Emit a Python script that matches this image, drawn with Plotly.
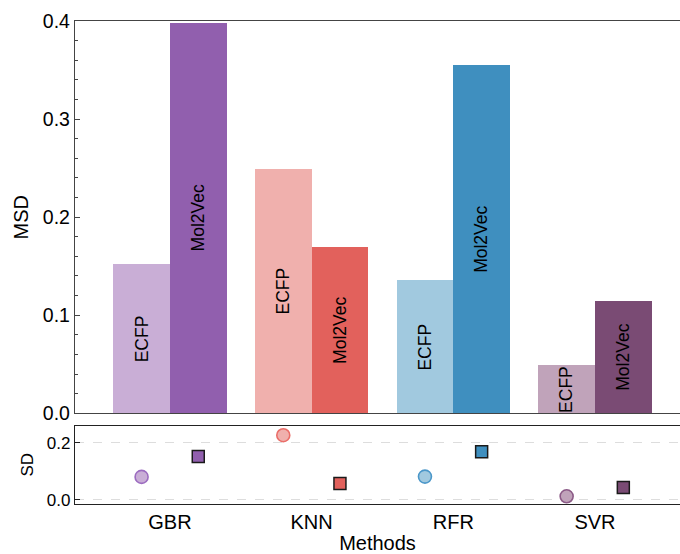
import plotly.graph_objects as go

methods = ["GBR", "KNN", "RFR", "SVR"]
msd_ecfp = [0.152, 0.249, 0.136, 0.049]
msd_mol2vec = [0.398, 0.170, 0.355, 0.114]
sd_ecfp = [0.080, 0.226, 0.081, 0.012]
sd_mol2vec = [0.151, 0.057, 0.168, 0.043]

ecfp_colors = ["#c9aed6", "#f0b0ad", "#a1c9df", "#c0a3ba"]
mol2vec_colors = ["#915fae", "#e2615c", "#3f8fbf", "#7a4b74"]
ecfp_edge = ["#9c6cc0", "#ea6e69", "#4b97c9", "#8c5b87"]

FONT = "Arial, Liberation Sans, sans-serif"
idx = list(range(len(methods)))
x_ecfp = [i - 0.2 for i in idx]
x_mol = [i + 0.2 for i in idx]

fig = go.Figure()
fig.add_trace(go.Bar(x=x_ecfp, y=msd_ecfp, width=0.4, marker=dict(color=ecfp_colors, line=dict(width=0)),
                     name="ECFP", xaxis="x", yaxis="y", showlegend=False))
fig.add_trace(go.Bar(x=x_mol, y=msd_mol2vec, width=0.4, marker=dict(color=mol2vec_colors, line=dict(width=0)),
                     name="Mol2Vec", xaxis="x", yaxis="y", showlegend=False))

fig.add_trace(go.Scatter(x=x_ecfp, y=sd_ecfp, mode="markers", xaxis="x2", yaxis="y2", showlegend=False,
                         marker=dict(symbol="circle", size=13, color=ecfp_colors,
                                     line=dict(color=ecfp_edge, width=1.6))))
fig.add_trace(go.Scatter(x=x_mol, y=sd_mol2vec, mode="markers", xaxis="x2", yaxis="y2", showlegend=False,
                         marker=dict(symbol="square", size=12, color=mol2vec_colors,
                                     line=dict(color="#1a1a1a", width=1.5))))

annotations = []
for xs, vals, label in [(x_ecfp, msd_ecfp, "ECFP"), (x_mol, msd_mol2vec, "Mol2Vec")]:
    for xv, v in zip(xs, vals):
        annotations.append(dict(x=xv, y=v / 2, xref="x", yref="y", text=label, textangle=-90,
                                showarrow=False, font=dict(family=FONT, size=17.5, color="black")))

xr = [-0.67, 3.6]
axis_line = "#444444"
fig.update_layout(
    width=680, height=554,
    margin=dict(l=75, r=0, t=21, b=50),
    paper_bgcolor="white", plot_bgcolor="white",
    font=dict(family=FONT, color="black"),
    bargap=0,
    annotations=annotations,
    xaxis=dict(domain=[0, 1], range=xr, anchor="y", showticklabels=False, ticks="",
               showline=True, linecolor=axis_line, linewidth=1.3, mirror=True, showgrid=False, zeroline=False),
    yaxis=dict(domain=[0.1878, 1], range=[0, 0.4], anchor="x", tickvals=[0, 0.1, 0.2, 0.3, 0.4],
               ticktext=["0.0", "0.1", "0.2", "0.3", "0.4"], ticks="inside", ticklen=5, tickcolor=axis_line,
               tickfont=dict(size=19.5), showline=True, linecolor=axis_line, linewidth=1.3,
               showgrid=False, zeroline=False,
               minor=dict(dtick=0.02, ticks="inside", ticklen=3, tickcolor=axis_line),
               title=dict(text="MSD", font=dict(size=20), standoff=8)),
    xaxis2=dict(domain=[0, 1], range=xr, anchor="y2", tickvals=idx, ticktext=methods, ticks="",
                tickfont=dict(size=20), showline=True, linecolor="#222222", linewidth=1.3, mirror=True,
                showgrid=False, zeroline=False,
                title=dict(text="Methods", font=dict(size=20), standoff=4)),
    yaxis2=dict(domain=[0, 0.1625], range=[-0.015, 0.26], anchor="x2", tickvals=[0, 0.2],
                ticktext=["0.0", "0.2"], ticks="inside", ticklen=5, tickcolor="#222222",
                tickfont=dict(size=17), showline=True, linecolor="#222222", linewidth=1.3,
                showgrid=True, gridcolor="#dddddd", griddash="dash", gridwidth=1, zeroline=False,
                title=dict(text="SD", font=dict(size=17), standoff=8)),
)

fig.write_html("out.html", config={"displayModeBar": False},
               post_script="document.body.style.margin='0';document.body.style.overflow='hidden';")
